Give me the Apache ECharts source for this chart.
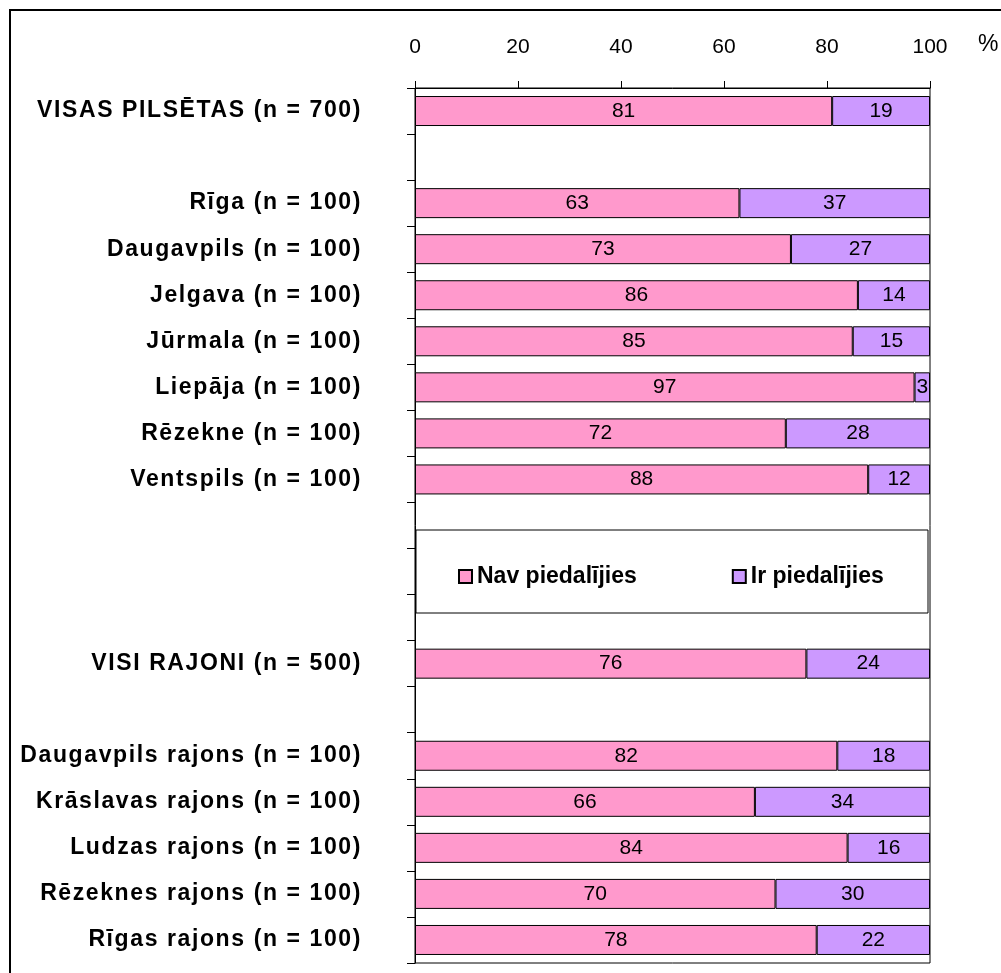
<!DOCTYPE html>
<html>
<head>
<meta charset="utf-8">
<script src="https://cdn.jsdelivr.net/npm/echarts@6/dist/echarts.min.js"></script>
<style>
html,body{margin:0;padding:0;background:#fff;}
#chart{width:1001px;height:973px;}
</style>
</head>
<body>
<div id="chart"></div>
<script>
const categories = [
  'VISAS PILSĒTAS (n = 700)', '',
  'Rīga (n = 100)', 'Daugavpils (n = 100)', 'Jelgava (n = 100)', 'Jūrmala (n = 100)',
  'Liepāja (n = 100)', 'Rēzekne (n = 100)', 'Ventspils (n = 100)',
  ' ', '  ', '   ',
  'VISI RAJONI (n = 500)', '    ',
  'Daugavpils rajons (n = 100)', 'Krāslavas rajons (n = 100)', 'Ludzas rajons (n = 100)',
  'Rēzeknes rajons (n = 100)', 'Rīgas rajons (n = 100)'
];
const navPiedalijies = [81, null, 63, 73, 86, 85, 97, 72, 88, null, null, null, 76, null, 82, 66, 84, 70, 78];
const irPiedalijies  = [19, null, 37, 27, 14, 15, 3, 28, 12, null, null, null, 24, null, 18, 34, 16, 30, 22];
const seriesNames = ['Nav piedalījies', 'Ir piedalījies'];
const xTicks = { min: 0, max: 100, interval: 20 };

// slight letter spacing for the bold category labels (as in the reference rendering)
(function () {
  const proto = CanvasRenderingContext2D.prototype;
  const orig = proto.fillText;
  proto.fillText = function (t, x, y, mw) {
    if ('letterSpacing' in this) {
      this.letterSpacing = (this.font && this.font.indexOf('Arimo') >= 0) ? '1.6px' : '0px';
    }
    return mw === undefined ? orig.call(this, t, x, y) : orig.call(this, t, x, y, mw);
  };
})();

const chart = echarts.init(document.getElementById('chart'));
const font = 'Liberation Sans, Arial, sans-serif';
const catFont = 'Liberation Sans, Arimo, sans-serif';
const barLabel = { show: true, position: 'inside', color: '#000', fontSize: 21, fontFamily: font };
chart.setOption({
  animation: false,
  backgroundColor: '#fff',
  textStyle: { fontFamily: font },
  grid: { left: 415, top: 88, right: 71, bottom: 10, show: true, borderColor: '#000', borderWidth: 1, backgroundColor: 'transparent' },
  xAxis: {
    type: 'value', position: 'top', min: xTicks.min, max: xTicks.max, interval: xTicks.interval,
    axisLine: { show: true, lineStyle: { color: '#000', width: 1 } },
    axisTick: { show: true, length: 7, lineStyle: { color: '#000' } },
    axisLabel: { color: '#000', fontSize: 21, fontFamily: font, margin: 30 },
    splitLine: { show: false }
  },
  yAxis: {
    type: 'category', inverse: true, data: categories,
    axisLine: { show: true, lineStyle: { color: '#000', width: 1 } },
    axisTick: { show: true, length: 8, interval: 0, alignWithLabel: false, lineStyle: { color: '#000' } },
    axisLabel: { color: '#000', fontSize: 23, fontWeight: 'bold', fontFamily: catFont, margin: 53, interval: 0 }
  },
  legend: {
    data: seriesNames, left: 453, top: 560, icon: 'rect', itemWidth: 13, itemHeight: 13, itemGap: 95,
    textStyle: { color: '#000', fontSize: 23, fontWeight: 'bold', fontFamily: font },
    z: 10
  },
  graphic: [
    { type: 'rect', z: 5, shape: { x: 416, y: 530, width: 512, height: 83 }, style: { fill: '#fff', stroke: '#000', lineWidth: 1 } },
    { type: 'rect', z: 5, shape: { x: 10, y: 10, width: 1000, height: 1000 }, style: { fill: 'none', stroke: '#000', lineWidth: 2 } },
    { type: 'text', z: 5, left: 978, top: 33, style: { text: '%', fill: '#000', fontSize: 23, fontFamily: font } }
  ],
  series: [
    { name: seriesNames[0], type: 'bar', stack: 'a', data: navPiedalijies, barWidth: 30,
      itemStyle: { color: '#FF99CC', borderColor: '#000', borderWidth: 1 }, label: barLabel },
    { name: seriesNames[1], type: 'bar', stack: 'a', data: irPiedalijies, barWidth: 30,
      itemStyle: { color: '#CC99FF', borderColor: '#000', borderWidth: 1 }, label: barLabel }
  ]
});
</script>
</body>
</html>
